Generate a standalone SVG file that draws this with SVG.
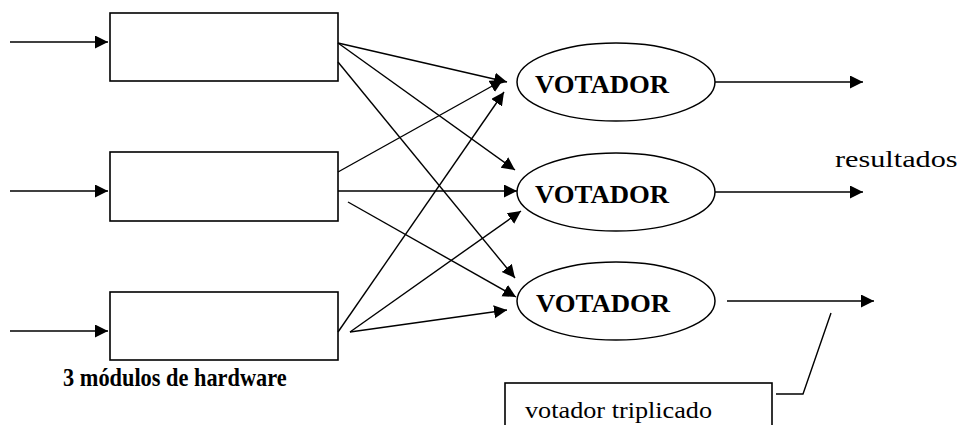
<svg xmlns="http://www.w3.org/2000/svg" width="966" height="425" viewBox="0 0 966 425">
<style>
.box{fill:#fff;stroke:#000;stroke-width:1.6}
.ell{fill:#fff;stroke:#000;stroke-width:1.5}
.ln{stroke:#000;stroke-width:1.4;fill:none}
.arr{marker-end:url(#ah)}
.vt{font-family:"Liberation Serif",serif;font-weight:bold;font-size:25px}
.t{font-family:"Liberation Serif",serif;font-size:23px}
</style>
<defs>
<marker id="ah" markerUnits="userSpaceOnUse" markerWidth="14" markerHeight="14" refX="13" refY="6.5" orient="auto">
<path d="M0,0 L13,6.5 L0,13 z" fill="#000"/>
</marker>
</defs>
<g id="module1"><rect class="box" x="110" y="13" width="228" height="68"/></g>
<g id="module2"><rect class="box" x="110" y="152" width="228" height="69"/></g>
<g id="module3"><rect class="box" x="110" y="292" width="228" height="68"/></g>
<g id="voter1"><ellipse class="ell" cx="616" cy="82" rx="99" ry="39"/><text class="vt" transform="translate(535,93) scale(1.07,1)">VOTADOR</text></g>
<g id="voter2"><ellipse class="ell" cx="616" cy="192" rx="99" ry="39"/><text class="vt" transform="translate(535,203) scale(1.07,1)">VOTADOR</text></g>
<g id="voter3"><ellipse class="ell" cx="616" cy="301" rx="99" ry="39"/><text class="vt" transform="translate(536,312) scale(1.07,1)">VOTADOR</text></g>
<g id="label-modules"><text class="vt" style="font-size:26px" transform="translate(63,386) scale(0.86,1)">3 módulos de hardware</text></g>
<g id="label-results"><text class="t" style="font-size:24px" transform="translate(835,167) scale(1.26,1)">resultados</text></g>
<g id="callout"><rect class="box" x="505" y="383" width="267" height="60"/><text class="t" transform="translate(525,418) scale(1.14,1)">votador triplicado</text><polyline class="ln" points="776,394 803,394 831,313"/></g>
<g id="connectors">
<line class="ln arr" x1="10" y1="42" x2="108" y2="42"/>
<line class="ln arr" x1="10" y1="191" x2="108" y2="191"/>
<line class="ln arr" x1="10" y1="331" x2="108" y2="331"/>
<line class="ln arr" x1="338" y1="43" x2="507" y2="82"/>
<line class="ln arr" x1="338" y1="43" x2="515" y2="170"/>
<line class="ln arr" x1="338" y1="62" x2="515" y2="278"/>
<line class="ln arr" x1="338" y1="172" x2="503" y2="80"/>
<line class="ln arr" x1="338" y1="191" x2="517" y2="191"/>
<line class="ln arr" x1="348" y1="202" x2="516" y2="297"/>
<line class="ln arr" x1="338" y1="332" x2="504" y2="92"/>
<line class="ln arr" x1="350" y1="332" x2="521" y2="211"/>
<line class="ln arr" x1="350" y1="332" x2="507" y2="310"/>
<line class="ln arr" x1="715" y1="82" x2="863" y2="82"/>
<line class="ln arr" x1="715" y1="192" x2="863" y2="192"/>
<line class="ln arr" x1="727" y1="301" x2="874" y2="301"/>
</g>
</svg>
